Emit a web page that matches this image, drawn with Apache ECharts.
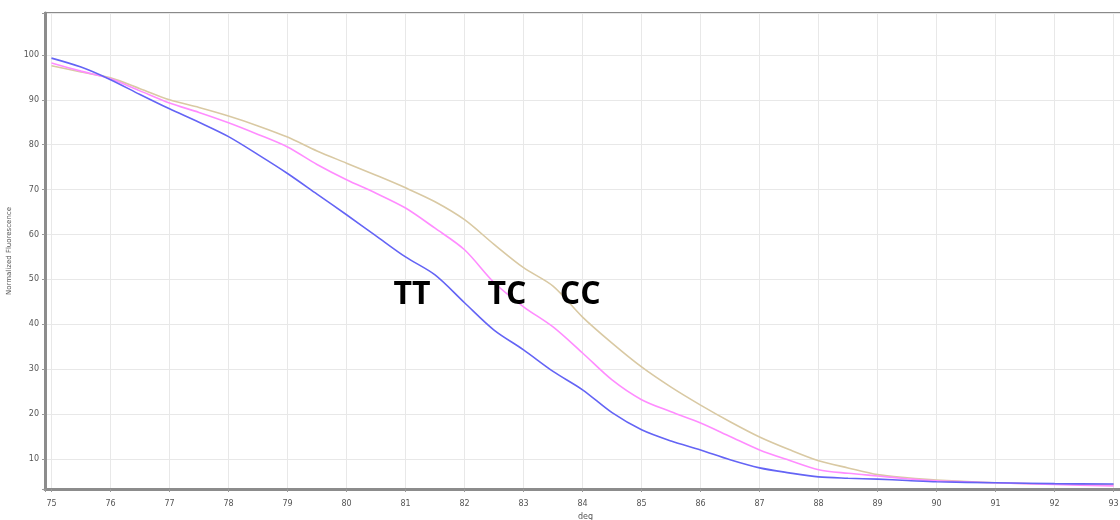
<!DOCTYPE html>
<html>
<head>
<meta charset="utf-8">
<title>Melt curves</title>
<script src="https://cdn.jsdelivr.net/npm/echarts@6/dist/echarts.min.js"></script>
<style>
  html, body { margin: 0; padding: 0; background: #fff; }
  #chart { width: 1120px; height: 520px; }
</style>
</head>
<body>
<div id="chart"></div>
<script>
// temperature (deg) sampled every 0.5 up to 90, then every 1
const temps = [75, 75.5, 76, 76.5, 77, 77.5, 78, 78.5, 79, 79.5, 80, 80.5, 81, 81.5, 82, 82.5,
  83, 83.5, 84, 84.5, 85, 85.5, 86, 86.5, 87, 87.5, 88, 88.5, 89, 89.5, 90, 91, 92, 93]

const ttValues = [99.3, 97.3, 94.5, 91.2, 88, 85, 81.8, 77.8, 73.6, 69, 64.4, 59.7, 55, 51, 44.8, 38.7,
  34.3, 29.5, 25.4, 20.3, 16.5, 14, 12, 9.8, 8, 6.9, 6.0, 5.7, 5.5, 5.2, 4.9, 4.7, 4.5, 4.4]
const tcValues = [98.2, 96.4, 94.7, 92, 89.3, 87.2, 84.9, 82.3, 79.5, 75.6, 72.2, 69.2, 65.9, 61.4, 56.6, 49.3,
  43.9, 39.4, 33.6, 27.6, 23.2, 20.5, 18, 15, 12, 9.7, 7.6, 6.8, 6.2, 5.6, 5.1, 4.7, 4.3, 4.0]
const ccValues = [97.6, 96.2, 94.9, 92.5, 90, 88.3, 86.4, 84.2, 81.7, 78.6, 75.9, 73.2, 70.4, 67.3, 63.3, 57.8,
  52.6, 48.5, 41.6, 35.8, 30.5, 26, 22, 18.3, 14.9, 12.1, 9.6, 8, 6.5, 5.8, 5.3, 4.7, 4.4, 4.2]

// genotype labels placed in data coordinates
const labelNames = ['TT', 'TC', 'CC']
const labelTemps = [81.11, 82.72, 83.96]
const labelValues = [46.5, 46.5, 46.5]

const chart = echarts.init(document.getElementById('chart'))

const toPairs = (vals) => temps.map((t, i) => [t, vals[i]])
const isWhole = (v) => Math.abs(v - Math.round(v)) < 1e-6

const lineSeries = (name, vals, color) => ({
  name: name,
  type: 'line',
  data: toPairs(vals),
  showSymbol: false,
  smooth: 0.3,
  lineStyle: { color: color, width: 1.6 },
  z: 3
})

const option = {
  animation: false,
  backgroundColor: '#ffffff',
  grid: {
    left: 45,
    top: 13,
    right: -6,
    bottom: 31,
    outerBoundsMode: 'none',
    show: true,
    borderColor: '#8a8a8a',
    borderWidth: 2
  },
  xAxis: {
    type: 'value',
    min: 74.89,
    max: 93.21,
    splitNumber: 18,
    minInterval: 1,
    maxInterval: 1,
    name: 'deg',
    nameLocation: 'middle',
    nameGap: 24,
    nameTextStyle: { fontSize: 8, color: '#555', fontFamily: 'DejaVu Sans' },
    axisLine: { show: true, lineStyle: { color: '#8c8c8c', width: 3 } },
    axisTick: { show: true, length: 3, lineStyle: { color: '#999' } },
    axisLabel: {
      fontSize: 8,
      color: '#555',
      margin: 11,
      fontFamily: 'DejaVu Sans',
      formatter: (v) => (isWhole(v) ? String(Math.round(v)) : '')
    },
    splitLine: { show: true, lineStyle: { color: '#e8e8e8', width: 1 } }
  },
  yAxis: {
    type: 'value',
    min: 3.3,
    max: 109.35,
    splitNumber: 10,
    minInterval: 10,
    maxInterval: 10,
    name: 'Normalized Fluorescence',
    nameLocation: 'middle',
    nameGap: 31,
    nameTextStyle: { fontSize: 7, color: '#555', fontFamily: 'DejaVu Sans' },
    axisLine: { show: true, lineStyle: { color: '#8c8c8c', width: 3 } },
    axisTick: { show: true, length: 3, lineStyle: { color: '#999' } },
    axisLabel: {
      fontSize: 8,
      color: '#555',
      margin: 6,
      fontFamily: 'DejaVu Sans',
      formatter: (v) => (isWhole(v) && Math.round(v) % 10 === 0 ? String(Math.round(v)) : '')
    },
    splitLine: { show: true, lineStyle: { color: '#e8e8e8', width: 1 } }
  },
  series: [
    lineSeries('CC', ccValues, '#d9c9a3'),
    lineSeries('TC', tcValues, '#ff8cff'),
    lineSeries('TT', ttValues, '#6464f5'),
    {
      type: 'scatter',
      symbolSize: 0,
      silent: true,
      z: 5,
      itemStyle: { opacity: 1 },
      data: labelNames.map((n, i) => ({ name: n, value: [labelTemps[i], labelValues[i]] })),
      label: {
        show: true,
        position: 'inside',
        formatter: (p) => p.name,
        fontSize: 32,
        fontWeight: 'bold',
        color: '#000000',
        textBorderWidth: 0,
        fontFamily: 'Open Sans'
      }
    }
  ]
}

chart.setOption(option)
</script>
</body>
</html>
